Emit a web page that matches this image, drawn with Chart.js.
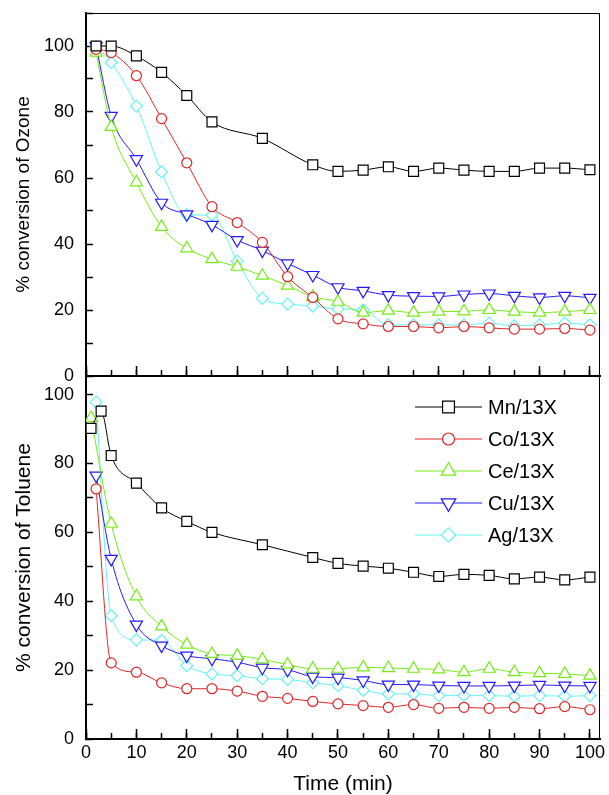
<!DOCTYPE html>
<html>
<head>
<meta charset="utf-8">
<script src="https://cdn.jsdelivr.net/npm/chart.js@4.4.0/dist/chart.umd.min.js"></script>
<style>
  body { margin: 0; background: #fff; }
  #wrap { position: relative; width: 609px; height: 795px; }
  canvas { position: absolute; left: 0; }
  #ozone { top: 0; }
  #toluene { top: 366px; }
</style>
</head>
<body>
<div id="wrap">
  <canvas id="ozone" width="609" height="390"></canvas>
  <canvas id="toluene" width="609" height="429"></canvas>
</div>
<script>
// time axes (min)
const timeMnOzone = [2, 5, 10, 15, 20, 25, 35, 45, 50, 55, 60, 65, 70, 75, 80, 85, 90, 95, 100];
const timeOzone = [2, 5, 10, 15, 20, 25, 30, 35, 40, 45, 50, 55, 60, 65, 70, 75, 80, 85, 90, 95, 100];
const timeMnToluene = [1, 3, 5, 10, 15, 20, 25, 35, 45, 50, 55, 60, 65, 70, 75, 80, 85, 90, 95, 100];
const timeCeToluene = [1, 5, 10, 15, 20, 25, 30, 35, 40, 45, 50, 55, 60, 65, 70, 75, 80, 85, 90, 95, 100];
const timeToluene = [2, 5, 10, 15, 20, 25, 30, 35, 40, 45, 50, 55, 60, 65, 70, 75, 80, 85, 90, 95, 100];

// % conversion of ozone
const ozoneMn = [100, 100, 97, 92, 85, 77, 72, 64, 62, 62.4, 63.4, 62, 63, 62.4, 62, 62, 63, 63, 62.5];
const ozoneCo = [99, 98, 91, 78, 64.6, 51.3, 46.5, 40.5, 30.1, 23.8, 17.3, 15.8, 15, 15, 14.6, 15, 14.6, 14.2, 14.2, 14.4, 13.9];
const ozoneCe = [98, 75.5, 58.7, 45.2, 38.7, 35.4, 33.1, 30.4, 27.4, 24, 22.5, 19.2, 19.8, 19.2, 19.5, 19.6, 20, 19.5, 19.2, 19.5, 20];
const ozoneCu = [100, 78.8, 65.7, 52.5, 49, 45.8, 41.2, 38, 34.1, 30.6, 26.9, 25.8, 24.5, 24.2, 24.1, 24.7, 25, 24.3, 23.8, 24.3, 23.7];
const ozoneAg = [100, 95, 81.8, 61.9, 48.8, 48.8, 34.8, 23.5, 21.8, 21.2, 20.3, 20, 15.5, 15.5, 15.5, 15.5, 16, 15.2, 15.5, 16, 15.5];

// % conversion of toluene
const tolueneMn = [90.2, 95.2, 82.3, 74.3, 67.1, 63.2, 60, 56.4, 52.7, 51, 50.2, 49.6, 48.4, 47.2, 47.8, 47.5, 46.5, 47, 46.2, 47];
const tolueneCo = [72.6, 22.1, 19.4, 16.3, 14.6, 14.6, 13.9, 12.4, 11.8, 10.9, 10.2, 9.7, 9.2, 10, 8.9, 9.2, 8.9, 9.2, 8.8, 9.4, 8.5];
const tolueneCe = [93.2, 62.5, 41.4, 32.7, 27.4, 24.7, 24.2, 23.1, 21.6, 20.4, 20.4, 20.8, 20.6, 20.4, 20.2, 19.4, 20.4, 19.4, 19.1, 18.9, 18.4];
const tolueneCu = [76.5, 52.3, 33.2, 27.1, 24.2, 23.3, 22.3, 20.7, 20.1, 18.1, 17.8, 17, 15.8, 15.8, 15.5, 15.4, 15.4, 15.5, 15.7, 15.5, 15.4];
const tolueneAg = [97.8, 35.8, 28.8, 28.6, 21.3, 18.9, 18.4, 17.5, 17.3, 16.3, 15.5, 14.1, 13.1, 13.1, 12.6, 12.6, 12.6, 12.4, 12.6, 12.4, 12.6];

const catalysts = ['Mn/13X', 'Co/13X', 'Ce/13X', 'Cu/13X', 'Ag/13X'];
const colors = ['#000000', '#e02626', '#74ec14', '#2418ff', '#66f2f2'];
const markers = [
  {style: 'rect', radius: 7, rotation: 0},
  {style: 'circle', radius: 5, rotation: 0},
  {style: 'triangle', radius: 7, rotation: 0},
  {style: 'triangle', radius: 7, rotation: 180},
  {style: 'rectRot', radius: 6, rotation: 0}
];

const FONT = "'Liberation Sans', Arial, sans-serif";

function makeSet(i, xs, ys) {
    return {
        label: catalysts[i],
        data: xs.map((x, k) => ({x: x, y: ys[k]})),
        borderColor: colors[i],
        borderWidth: 1,
        pointStyle: markers[i].style,
        pointRadius: markers[i].radius,
        pointRotation: markers[i].rotation,
        pointBorderWidth: 1.2,
        pointBorderColor: colors[i],
        pointBackgroundColor: '#ffffff',
        cubicInterpolationMode: 'monotone',
        fill: false
    };
}

// thin box round the plot area (top + right edges)
const framePlugin = {
    id: 'frame',
    beforeDatasetsDraw(chart) {
        const {ctx, chartArea: a} = chart;
        ctx.save();
        ctx.strokeStyle = '#000';
        ctx.lineWidth = 1;
        ctx.strokeRect(a.left + 0.5, a.top + 0.5, a.right - a.left - 1, a.bottom - a.top);
        ctx.restore();
    }
};

// legend with a short line through the marker, like Origin does it
const lineLegend = {
    id: 'lineLegend',
    afterDatasetsDraw(chart) {
        const {ctx, chartArea} = chart;
        ctx.save();
        chart.data.datasets.forEach((ds, i) => {
            const y = chartArea.top + 31 + i * 32;
            const x0 = chartArea.left + 329;
            const x1 = x0 + 67;
            ctx.strokeStyle = ds.borderColor;
            ctx.lineWidth = 1;
            ctx.beginPath();
            ctx.moveTo(x0, y);
            ctx.lineTo(x1, y);
            ctx.stroke();
            ctx.fillStyle = '#fff';
            ctx.lineWidth = 1.2;
            Chart.helpers.drawPoint(ctx, {
                pointStyle: ds.pointStyle,
                radius: ds.pointRadius * 1.2,
                rotation: ds.pointRotation,
                borderWidth: 1.2
            }, (x0 + x1) / 2, y);
            ctx.fillStyle = '#000';
            ctx.font = '20px ' + FONT;
            ctx.textBaseline = 'middle';
            ctx.textAlign = 'left';
            ctx.fillText(ds.label, x1 + 6, y + 1);
        });
        ctx.restore();
    }
};

function panelOptions(yTitle, yMax, titleSize, axisHeight, showX) {
    return {
        responsive: false,
        animation: false,
        layout: {autoPadding: false, padding: {top: showX ? 10 : 13, right: 9, left: 0, bottom: 0}},
        plugins: {legend: {display: false}, tooltip: {enabled: false}},
        scales: {
            xm: {
                type: 'linear', position: 'bottom', weight: 0,
                min: 0, max: 102,
                ticks: {stepSize: 5, includeBounds: false, callback: () => ''},
                grid: {drawOnChartArea: false, tickLength: -6, tickWidth: 1.5, tickColor: '#000'},
                border: {display: false},
                afterFit: s => { s.height = 0; s.paddingLeft = 0; s.paddingRight = 0; }
            },
            x: {
                type: 'linear', position: 'bottom', weight: 1,
                min: 0, max: 102,
                ticks: {
                    stepSize: 10, includeBounds: false, padding: 13,
                    color: '#000', font: {family: FONT, size: 18},
                    callback: v => showX ? v : ''
                },
                grid: {drawOnChartArea: false, tickLength: -10, tickWidth: 1.5, tickColor: '#000'},
                border: {width: 2, color: '#000'},
                title: {
                    display: showX, text: 'Time (min)', color: '#000',
                    font: {family: FONT, size: 21, lineHeight: 1},
                    padding: {top: 0, bottom: 0}
                },
                afterFit: s => { s.height = axisHeight; s.paddingLeft = 0; s.paddingRight = 0; }
            },
            y: {
                min: 0, max: yMax,
                ticks: {
                    stepSize: 10, includeBounds: false, padding: 19,
                    color: '#000', font: {family: FONT, size: 18},
                    callback: v => (v % 20 === 0 ? v : '')
                },
                grid: {drawOnChartArea: false, tickLength: -7, tickWidth: 1.5, tickColor: '#000'},
                border: {width: 2, color: '#000'},
                title: {
                    display: true, text: yTitle, color: '#000',
                    font: {family: FONT, size: titleSize, lineHeight: 1.2},
                    padding: {top: 12, bottom: 0}
                },
                afterFit: s => { s.width = 86; s.paddingTop = 0; s.paddingBottom = 0; }
            }
        }
    };
}

const ozoneChart = new Chart(document.getElementById('ozone'), {
    type: 'line',
    data: {
        datasets: [
            makeSet(0, timeMnOzone, ozoneMn),
            makeSet(1, timeOzone, ozoneCo),
            makeSet(2, timeOzone, ozoneCe),
            makeSet(3, timeOzone, ozoneCu),
            makeSet(4, timeOzone, ozoneAg)
        ]
    },
    options: panelOptions('% conversion of Ozone', 110, 19, 14, false),
    plugins: [framePlugin]
});

const tolueneChart = new Chart(document.getElementById('toluene'), {
    type: 'line',
    data: {
        datasets: [
            makeSet(0, timeMnToluene, tolueneMn),
            makeSet(1, timeToluene, tolueneCo),
            makeSet(2, timeCeToluene, tolueneCe),
            makeSet(3, timeToluene, tolueneCu),
            makeSet(4, timeToluene, tolueneAg)
        ]
    },
    options: panelOptions('% conversion of Toluene', 105.4, 21, 56, true),
    plugins: [framePlugin, lineLegend]
});
</script>
</body>
</html>
